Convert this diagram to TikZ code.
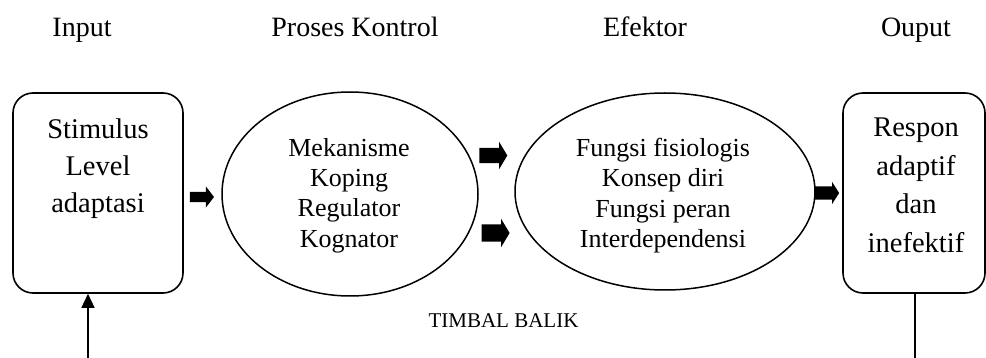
\documentclass[tikz,border=0pt]{standalone}
\usepackage{fontspec}
\setmainfont{Liberation Serif}
\usetikzlibrary{shapes.geometric,shapes.arrows,arrows.meta}
\begin{document}
\begin{tikzpicture}[x=1pt,y=-1pt,
  hdr/.style={font=\fontsize{28}{32}\selectfont, anchor=base, inner sep=0pt},
  stage/.style={draw, rounded corners=20pt, line width=1.6pt},
  oval/.style={draw, ellipse, line width=1.5pt, inner sep=0pt},
  boxtext/.style={align=center, inner sep=0pt, anchor=north},
  ovaltext/.style={align=center, inner sep=0pt, anchor=north, font=\fontsize{26}{30.3}\selectfont},
  blk/.style={single arrow, fill=black, inner xsep=0pt, draw=none},
  fbline/.style={line width=1.5pt}
]
\useasboundingbox (0,0) rectangle (986,358);

% column headings
\node[hdr] (hIn)  at (82,37)  {Input};
\node[hdr] (hPk)  at (355,37) {Proses Kontrol};
\node[hdr] (hEf)  at (645,37) {Efektor};
\node[hdr] (hOut) at (916,37) {Ouput};

% input box
\node[stage, minimum width=170pt, minimum height=200pt] (inp) at (98,193) {};
\node[boxtext, font=\fontsize{28.5}{37}\selectfont] (inpT) at (98,118.5) {Stimulus\\Level\\adaptasi};

% control process
\node[oval, minimum width=256pt, minimum height=204pt] (ctl) at (350,194) {};
\node[ovaltext] (ctlT) at (349,138) {Mekanisme\\Koping\\Regulator\\Kognator};

% effectors
\node[oval, minimum width=300pt, minimum height=197pt] (eff) at (665,191.5) {};
\node[ovaltext] (effT) at (663,138) {Fungsi fisiologis\\Konsep diri\\Fungsi peran\\Interdependensi};

% output box
\node[stage, minimum width=142pt, minimum height=200pt] (out) at (914,193) {};
\node[boxtext, font=\fontsize{28.5}{38.5}\selectfont] (outT) at (916,118) {Respon\\adaptif\\dan\\inefektif};

% block arrows between the stages
\node[blk, minimum height=24pt, inner ysep=5pt, single arrow head extend=5.5pt, single arrow tip angle=105] (a1) at (200,197) {};
\node[blk, minimum height=28pt, inner ysep=7.5pt, single arrow head extend=6pt, single arrow tip angle=118] (a2) at (491,155.5) {};
\node[blk, minimum height=28pt, inner ysep=8.5pt, single arrow head extend=5.5pt, single arrow tip angle=118] (a3) at (493,233) {};
\node[blk, minimum height=24pt, inner ysep=6.5pt, single arrow head extend=4.5pt, single arrow tip angle=115] (a4) at (825,193) {};

% feedback
\node[font=\fontsize{21}{24}\selectfont, anchor=base, inner sep=0pt] (fb) at (503.5,327) {TIMBAL BALIK};
\coordinate (fbR) at (915,358);
\coordinate (fbL) at (88,358);
\draw[fbline] (out.south -| fbR) -- (fbR);
\draw[fbline, -{Triangle[length=14pt,width=13pt]}] (fbL) -- (fbL |- inp.south);
\end{tikzpicture}
\end{document}
